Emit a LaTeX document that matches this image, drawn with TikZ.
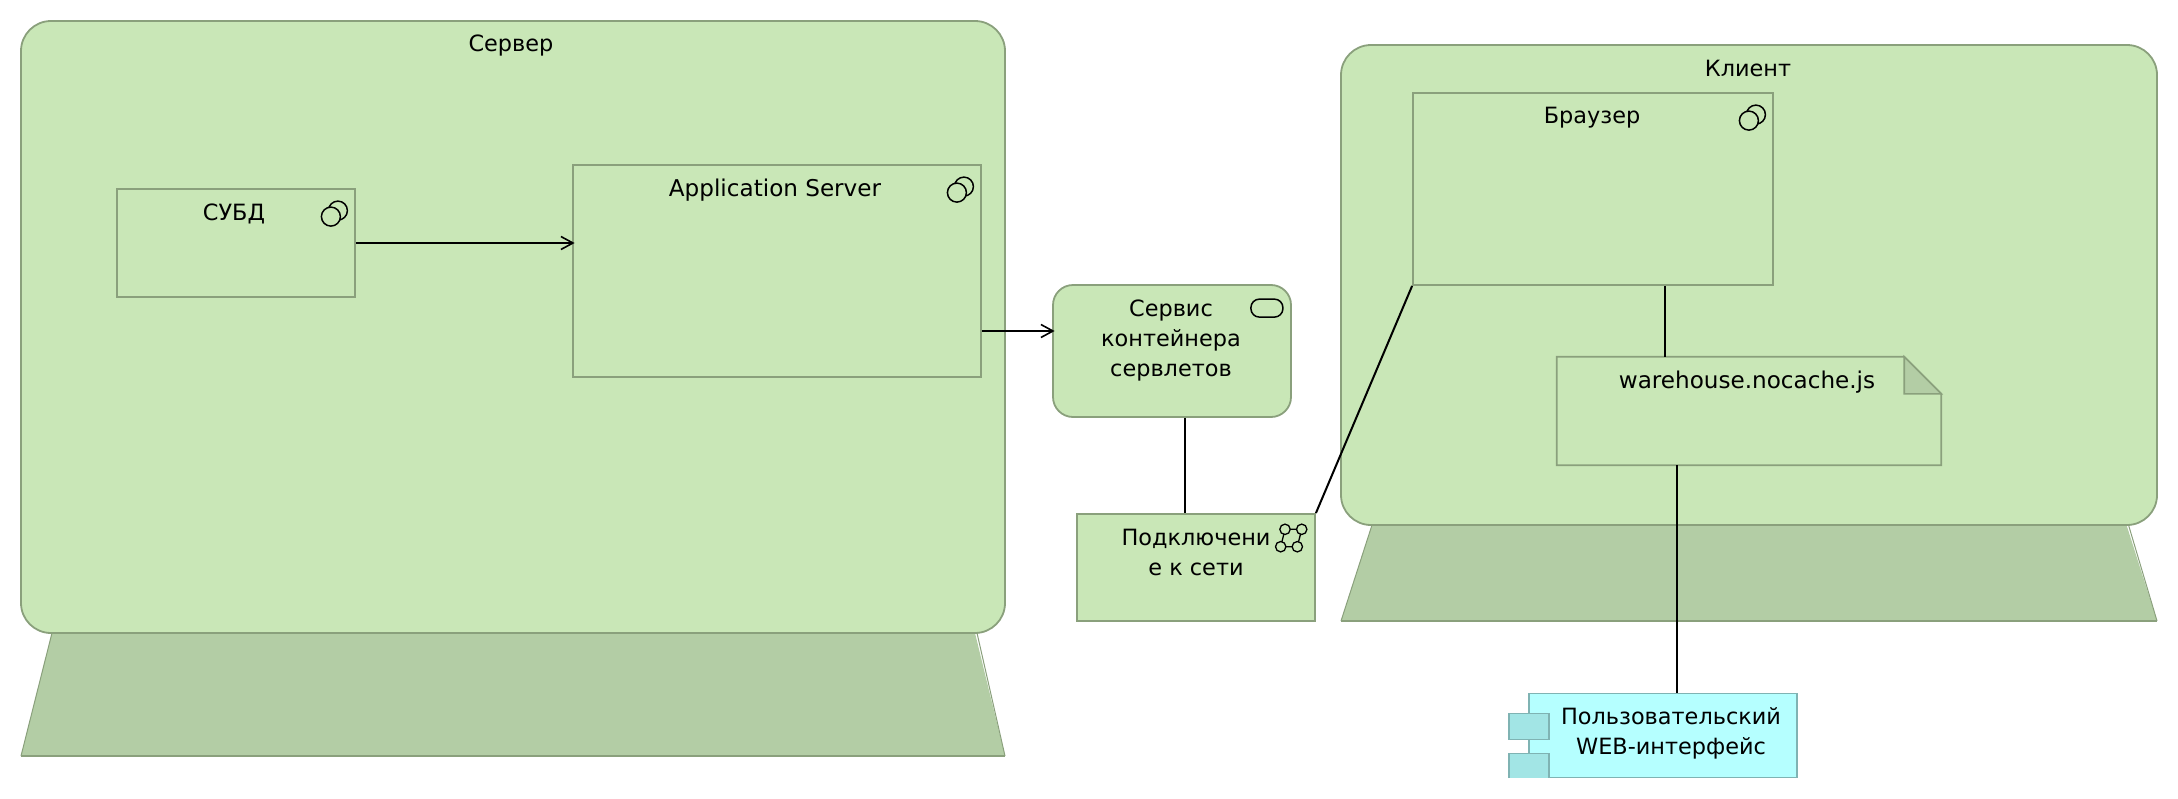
\documentclass[tikz,border=0pt]{standalone}
\usepackage{fontspec}
\setmainfont{DejaVu Sans}
\usetikzlibrary{arrows.meta,calc}
\definecolor{techfill}{HTML}{C9E7B7}
\definecolor{techline}{HTML}{8AA07C}
\definecolor{techbase}{HTML}{B3CDA5}
\definecolor{appfill}{HTML}{B5FFFF}
\definecolor{appline}{HTML}{7FB3B3}
\definecolor{apptab}{HTML}{A2E5E5}
\tikzset{
  x=1pt,y=-1pt,
  techbox/.style={draw=techline,fill=techfill,line width=1.8pt,rectangle,inner sep=0pt},
  device/.style={techbox,rounded corners=30pt},
  svcbox/.style={techbox,rounded corners=20pt},
  plainbox/.style={rectangle,inner sep=0pt},
  lbl/.style={font=\fontsize{22.4}{30}\selectfont,align=center,inner sep=0pt,text=black},
  lbllatin/.style={lbl,font=\fontsize{23.1}{30}\selectfont},
  conn/.style={draw=black,line width=2pt},
  arrowconn/.style={conn,shorten >=-2.5pt,-{Straight Barb[length=12pt,width=13pt,line width=1.6pt]}},
  icon/.style={draw=black,line width=1.5pt},
  baseedge/.style={draw=techline,line width=1pt},
  baseline/.style={draw=techline,line width=2pt},
}
\newcommand{\pair}[1]{\draw[icon,fill=techfill] ($(#1)+(-18,22.5)$) circle[radius=9.5];\draw[icon,fill=techfill] ($(#1)+(-25,28.5)$) circle[radius=9.5];}
\begin{document}
\begin{tikzpicture}
\useasboundingbox (0,0) rectangle (2178,798);
% device bases
\fill[techbase] (52,633) -- (21,756) -- (1005,756) -- (975,633) -- cycle;
\draw[baseedge] (52,633) -- (21,756);
\draw[baseedge] (977,633) -- (1005,756);
\draw[baseline] (21,756) -- (1005,756);
\fill[techbase] (1372,525) -- (1341,621) -- (2157,621) -- (2126.5,525) -- cycle;
\draw[baseedge] (1372,525) -- (1341,621);
\draw[baseedge] (2128.5,525) -- (2157,621);
\draw[baseline] (1341,621) -- (2157,621);
% containers
\node[device,minimum width=984pt,minimum height=612pt] (server) at (513,327) {};
\node[device,minimum width=816pt,minimum height=480pt] (client) at (1749,285) {};
% elements
\node[techbox,minimum width=238pt,minimum height=108pt] (dbms) at (236,243) {};
\node[techbox,minimum width=408pt,minimum height=212pt] (app) at (777,271) {};
\node[svcbox,minimum width=238pt,minimum height=132pt] (svc) at (1172,351) {};
\node[techbox,minimum width=238pt,minimum height=107pt] (net) at (1196,567.5) {};
\node[techbox,minimum width=360pt,minimum height=192pt] (browser) at (1593,189) {};
% artifact
\node[plainbox,minimum width=384pt,minimum height=108pt] (note) at (1749,411) {};
\draw[techbox] (note.south west) -- (note.north west) -- ($(note.north east)+(-37,0)$) -- ($(note.north east)+(0,37)$) -- (note.south east) -- cycle;
\draw[draw=techline,fill=techbase,line width=1.6pt] ($(note.north east)+(-37,0)$) -- ($(note.north east)+(-37,37)$) -- ($(note.north east)+(0,37)$) -- cycle;
% component
\node[plainbox,draw=appline,fill=appfill,line width=1.8pt,minimum width=268pt,minimum height=84pt] (comp) at (1663,735.5) {};
\node[plainbox,draw=appline,fill=apptab,line width=1.8pt,minimum width=40pt,minimum height=26pt] (tabA) at (1529,726.5) {};
\fill[apptab] (1509,753.5) rectangle (1549,777.5);
\draw[draw=appline,line width=1.8pt] (1509,778) -- (1509,753.5) -- (1549,753.5) -- (1549,777.5);
% icons
\pair{browser.north east}
\pair{app.north east}
\pair{dbms.north east}
\draw[icon,rounded corners=8.5pt] ($(svc.north east)+(-41,15)$) rectangle ($(svc.north east)+(-9,33)$);
\coordinate (nA) at (1285,529.3); \coordinate (nB) at (1301.7,529.3);
\coordinate (nC) at (1280.7,546.7); \coordinate (nD) at (1297.3,546.7);
\draw[icon,line width=1.3pt] (nA) -- (nB) -- (nD) -- (nC) -- cycle;
\foreach \n in {nA,nB,nC,nD} \draw[icon,fill=techfill,line width=1.3pt] (\n) circle[radius=5.2];
% connectors
\coordinate (yA) at (0,331);
\coordinate (xA) at (1185,0);
\coordinate (xB) at (1665,0);
\coordinate (xC) at (1677,0);
\draw[arrowconn] (dbms.east) -- (app.west |- dbms.east);
\draw[arrowconn] (app.east |- yA) -- (svc.west |- yA);
\draw[conn] (svc.south -| xA) -- (net.north -| xA);
\draw[conn] (net.north east) -- (browser.south west);
\draw[conn] (browser.south -| xB) -- (note.north -| xB);
\draw[conn] (note.south -| xC) -- (comp.north -| xC);
% labels
\node[lbl] (tServer) at (511,46) {Сервер};
\node[lbl] (tClient) at (1748,68) {Клиент};
\node[lbl] (tBrowser) at (1592,118) {Браузер};
\node[lbl] (tDbms) at (234,214) {СУБД};
\node[lbllatin] (tApp) at (775,190) {Application Server};
\node[lbl] (tSvc) at (1171,341) {Сервис\\контейнера\\сервлетов};
\node[lbl] (tNet) at (1196,552) {Подключени\\е к сети};
\node[lbllatin] (tNote) at (1747,382.5) {warehouse.nocache.js};
\node[lbl] (tComp) at (1671,733) {Пользовательский\\WEB-интерфейс};
\end{tikzpicture}
\end{document}
